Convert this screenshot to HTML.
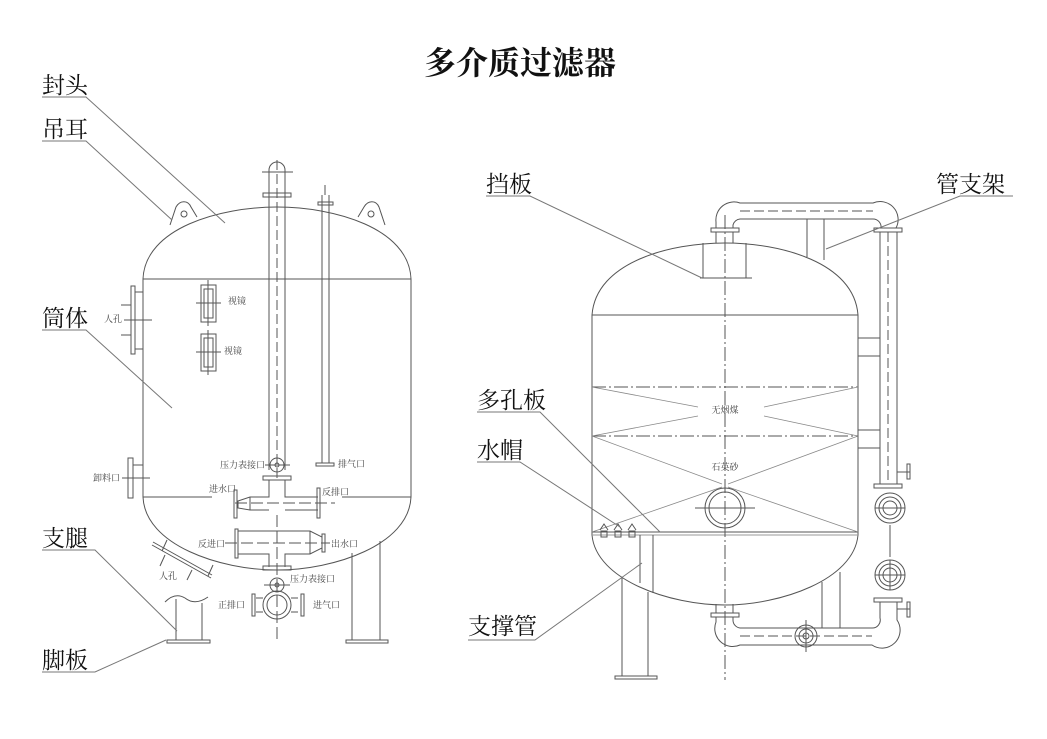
<!DOCTYPE html>
<html><head><meta charset="utf-8"><style>
html,body{margin:0;padding:0;background:#fff;width:1047px;height:739px;overflow:hidden}
svg text{font-family:"Liberation Serif","Noto Serif CJK SC",serif;fill:#111}
.s{font-size:9px;fill:#444}
</style></head><body>
<svg width="1047" height="739" viewBox="0 0 1047 739" xmlns="http://www.w3.org/2000/svg">
<g fill="none" stroke="#555" stroke-width="1">
<!-- LEFT VESSEL -->
<path d="M143,279 C145,228 220,207 277,207 C334,207 409,228 411,279"/>
<line x1="143" y1="279" x2="411" y2="279"/>
<line x1="143" y1="279" x2="143" y2="497"/><line x1="411" y1="279" x2="411" y2="497"/>
<line x1="143" y1="497" x2="212" y2="497"/><line x1="342" y1="497" x2="411" y2="497"/>
<path d="M143,497 C145,545 220,570 277,570 C334,570 409,545 411,497"/>
<path d="M170,225 L176,207 C180,200 188,200 191,207 L197,217"/><circle cx="184" cy="214" r="3"/>
<path d="M358,217 L364,207 C368,200 376,200 379,207 L385,225"/><circle cx="371" cy="214" r="3"/>
<path d="M269,470 L269,170 A8,8 0 0 1 285,170 L285,470"/>
<line x1="277" y1="160" x2="277" y2="480" stroke-dasharray="10,4"/>
<line x1="262" y1="172" x2="293" y2="172"/>
<rect x="263" y="193" width="28" height="4"/><rect x="263" y="476" width="28" height="4"/>
<circle cx="277" cy="465" r="7"/><circle cx="277" cy="465" r="2"/>
<line x1="265" y1="465" x2="290" y2="465"/>
<line x1="322" y1="195" x2="322" y2="463"/><line x1="329" y1="195" x2="329" y2="463"/>
<line x1="325" y1="185" x2="325" y2="195"/><rect x="318" y="202" width="15" height="3"/>
<rect x="316" y="463" width="18" height="3"/>
<rect x="201" y="285" width="15" height="37"/><rect x="204" y="289" width="9" height="29"/>
<rect x="201" y="334" width="15" height="37"/><rect x="204" y="338" width="9" height="29"/>
<line x1="196" y1="303" x2="221" y2="303"/><line x1="196" y1="352" x2="221" y2="352"/>
<line x1="208" y1="280" x2="208" y2="326"/><line x1="208" y1="330" x2="208" y2="375"/>
<rect x="131" y="286" width="4" height="68"/><line x1="135" y1="292" x2="143" y2="292"/><line x1="135" y1="349" x2="143" y2="349"/>
<line x1="121" y1="305" x2="131" y2="305"/><line x1="121" y1="335" x2="131" y2="335"/>
<line x1="124" y1="320" x2="152" y2="320"/>
<rect x="128" y="458" width="5" height="40"/><line x1="133" y1="465" x2="143" y2="465"/>
<line x1="122" y1="478" x2="150" y2="478"/>
<path d="M269,480 L269,497 L250,497 L238,501 L238,508 L250,510 L269,510"/>
<path d="M285,480 L285,497 L318,497 M285,510 L318,510"/>
<line x1="250" y1="497" x2="250" y2="510"/>
<rect x="234" y="490" width="3" height="28"/><rect x="317" y="488" width="3" height="30"/>
<line x1="235" y1="503" x2="335" y2="503" stroke-dasharray="12,4"/>
<path d="M238,531 L310,531 L322,537 L322,548 L310,554 L285,554 L285,567 M269,567 L269,554 L238,554"/>
<line x1="310" y1="531" x2="310" y2="554"/>
<rect x="235" y="529" width="3" height="29"/><rect x="322" y="534" width="3" height="18"/>
<line x1="225" y1="543" x2="330" y2="543" stroke-dasharray="12,4"/>
<line x1="277" y1="515" x2="277" y2="640" stroke-dasharray="12,4"/>
<rect x="263" y="566" width="28" height="4"/>
<circle cx="277" cy="585" r="7"/><circle cx="277" cy="585" r="2"/>
<line x1="264" y1="585" x2="290" y2="585"/>
<circle cx="277" cy="605" r="14"/><circle cx="277" cy="605" r="10"/>
<line x1="256" y1="598" x2="263" y2="598"/><line x1="256" y1="612" x2="263" y2="612"/>
<line x1="291" y1="598" x2="298" y2="598"/><line x1="291" y1="612" x2="298" y2="612"/>
<rect x="252" y="594" width="3" height="22"/><rect x="301" y="594" width="3" height="22"/>
<line x1="152" y1="545" x2="211" y2="578"/><line x1="153" y1="542" x2="212" y2="575"/>
<line x1="162" y1="551" x2="167" y2="540"/><line x1="208" y1="576" x2="213" y2="565"/>
<line x1="165" y1="555" x2="160" y2="566"/><line x1="192" y1="570" x2="187" y2="580"/>
<path d="M165,602 Q175,592 185,598 Q195,606 208,597"/>
<line x1="176" y1="599" x2="176" y2="640"/><line x1="202" y1="603" x2="202" y2="640"/>
<rect x="167" y="640" width="43" height="3"/>
<line x1="352" y1="553" x2="352" y2="640"/><line x1="380" y1="541" x2="380" y2="640"/>
<rect x="346" y="640" width="42" height="3"/>
<g stroke="#777">
<path d="M42,97 L86,97 L225,223"/>
<path d="M42,141 L86,141 L172,220"/>
<path d="M42,330 L86,330 L172,408"/>
<path d="M42,550 L95,550 L177,631"/>
<path d="M42,672 L95,672 L166,640"/>
</g>
<!-- RIGHT VESSEL -->
<path d="M592,315 C596,262 670,243 725,243 C780,243 854,262 858,315"/>
<line x1="592" y1="315" x2="858" y2="315"/>
<line x1="592" y1="315" x2="592" y2="535"/><line x1="858" y1="315" x2="858" y2="535"/>
<path d="M592,535 C596,580 670,605 725,605 C780,605 854,580 858,535"/>
<line x1="592" y1="532" x2="858" y2="532"/><line x1="592" y1="535" x2="858" y2="535" stroke="#999"/>
<g stroke-dasharray="14,3,2,3">
<line x1="592" y1="387" x2="858" y2="387"/><line x1="592" y1="436" x2="858" y2="436"/>
<line x1="725" y1="215" x2="725" y2="680"/>
</g>
<g stroke="#888" stroke-width="0.8">
<path d="M592,387 L698,407 M592,436 L698,416 M858,387 L764,407 M858,436 L764,416"/>
<path d="M592,436 L722,484 M858,436 L728,484 M592,532 L722,487 M858,532 L728,487"/>
</g>
<line x1="703" y1="243" x2="703" y2="278"/><line x1="746" y1="243" x2="746" y2="278"/>
<line x1="700" y1="278" x2="752" y2="278"/>
<line x1="716" y1="232" x2="716" y2="243"/><line x1="733" y1="232" x2="733" y2="243"/>
<rect x="711" y="228" width="28" height="4"/>
<path d="M716,228 L716,222 A18,18 0 0 1 740,203 L873,203 A18,18 0 0 1 896,228"/>
<path d="M733,228 L733,225 A8,8 0 0 1 740,219 L873,219 A8,8 0 0 1 881,228"/>
<line x1="740" y1="211" x2="873" y2="211" stroke-dasharray="10,4"/>
<line x1="807" y1="219" x2="807" y2="257"/><line x1="824" y1="219" x2="824" y2="260"/>
<rect x="874" y="228" width="28" height="4"/>
<line x1="880" y1="232" x2="880" y2="484"/><line x1="897" y1="232" x2="897" y2="484"/>
<line x1="888" y1="232" x2="888" y2="484" stroke-dasharray="10,4"/>
<rect x="858" y="338" width="22" height="18"/><rect x="858" y="430" width="22" height="18"/>
<line x1="897" y1="472" x2="910" y2="472"/><rect x="907" y="464" width="3" height="15"/>
<rect x="874" y="484" width="28" height="4"/>
<circle cx="890" cy="508" r="15"/><circle cx="890" cy="508" r="11"/><circle cx="890" cy="508" r="7"/>
<line x1="875" y1="508" x2="905" y2="508"/><line x1="890" y1="525" x2="890" y2="557"/>
<circle cx="890" cy="575" r="15"/><circle cx="890" cy="575" r="11"/><circle cx="890" cy="575" r="7"/>
<line x1="875" y1="575" x2="905" y2="575"/><line x1="890" y1="560" x2="890" y2="590"/>
<rect x="874" y="598" width="28" height="4"/>
<line x1="897" y1="609" x2="910" y2="609"/><rect x="907" y="602" width="3" height="15"/>
<path d="M880,602 L880,618 A8,8 0 0 1 872,628 L740,628 A8,8 0 0 1 733,620 L733,617"/>
<path d="M897,602 L897,620 A18,18 0 0 1 872,645 L740,645 A18,18 0 0 1 716,622 L716,617"/>
<line x1="740" y1="636" x2="872" y2="636" stroke-dasharray="10,4"/>
<rect x="711" y="613" width="28" height="4"/>
<line x1="716" y1="604" x2="716" y2="613"/><line x1="733" y1="604" x2="733" y2="613"/>
<circle cx="806" cy="636" r="11"/><circle cx="806" cy="636" r="7"/><circle cx="806" cy="636" r="3"/>
<line x1="806" y1="620" x2="806" y2="652"/>
<line x1="822" y1="582" x2="822" y2="628"/><line x1="840" y1="572" x2="840" y2="628"/>
<circle cx="725" cy="508" r="20"/><circle cx="725" cy="508" r="16"/>
<line x1="695" y1="508" x2="755" y2="508"/>
<path d="M600,530 L604,524 L608,530 M614,530 L618,524 L622,530 M628,530 L632,524 L636,530"/>
<rect x="601" y="531" width="6" height="6"/><rect x="615" y="531" width="6" height="6"/><rect x="629" y="531" width="6" height="6"/>
<line x1="640" y1="535" x2="640" y2="583"/><line x1="653" y1="535" x2="653" y2="593"/>
<line x1="622" y1="578" x2="622" y2="676"/><line x1="648" y1="592" x2="648" y2="676"/>
<rect x="615" y="676" width="42" height="3"/>
<g stroke="#777">
<path d="M486,196 L530,196 L702,278"/>
<path d="M1013,196 L960,196 L826,249"/>
<path d="M477,412 L540,412 L660,532"/>
<path d="M477,462 L520,462 L620,527"/>
<path d="M468,640 L535,640 L642,563"/>
</g>
</g>
<text x="520" y="74" text-anchor="middle" font-size="32" font-weight="bold" style="font-family:'Liberation Serif','Noto Serif CJK SC',serif">多介质过滤器</text>
<g font-size="23">
<text x="42" y="93">封头</text><text x="42" y="137">吊耳</text><text x="42" y="326">筒体</text>
<text x="42" y="546">支腿</text><text x="42" y="668">脚板</text>
<text x="486" y="192">挡板</text><text x="936" y="192">管支架</text>
<text x="477" y="408">多孔板</text><text x="477" y="458">水帽</text><text x="468" y="634">支撑管</text>
</g>
<g class="s">
<text x="104" y="322" class="s">人孔</text><text x="228" y="304" class="s">视镜</text><text x="224" y="354" class="s">视镜</text>
<text x="220" y="468" class="s">压力表接口</text><text x="338" y="467" class="s">排气口</text>
<text x="93" y="481" class="s">卸料口</text><text x="209" y="492" class="s">进水口</text><text x="322" y="495" class="s">反排口</text>
<text x="198" y="547" class="s">反进口</text><text x="331" y="547" class="s">出水口</text>
<text x="159" y="579" class="s">人孔</text><text x="290" y="582" class="s">压力表接口</text>
<text x="218" y="608" class="s">正排口</text><text x="313" y="608" class="s">进气口</text>
<text x="725" y="413" class="s" text-anchor="middle">无烟煤</text><text x="725" y="470" class="s" text-anchor="middle">石英砂</text>
</g>
</svg>
</body></html>
